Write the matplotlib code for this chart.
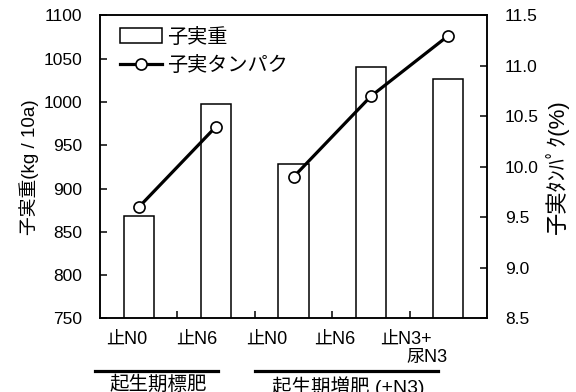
import matplotlib
matplotlib.use("Agg")
import matplotlib.pyplot as plt
from matplotlib.lines import Line2D
from matplotlib.patches import Patch
import numpy as np

plt.rcParams['font.family'] = ['Liberation Sans', 'Noto Sans CJK JP']
plt.rcParams['font.size'] = 12.5

categories = ["止N0", "止N6", "止N0", "止N6", "止N3+"]
extra_label = "尿N3"
yield_kg = [868, 998, 928, 1041, 1027]
protein = [9.6, 10.4, 9.9, 10.7, 11.3]
groups = [[0, 1], [2, 3, 4]]
group_names = ["起生期標肥", "起生期増肥 (+N3)"]

x = np.arange(len(categories))

fig = plt.figure(figsize=(5.76, 3.92), dpi=100)
ax = fig.add_axes([0.1736, 0.188, 0.8455 - 0.1736, 0.9605 - 0.188])
ax2 = ax.twinx()

ax.bar(x, yield_kg, width=0.39, color="white", edgecolor="black", linewidth=1.1, zorder=2)
for g in groups:
    ax2.plot(x[g], [protein[i] for i in g], color="black", lw=2.3,
             marker="o", ms=8, mfc="white", mec="black", mew=1.2, zorder=3)

ax.set_xlim(-0.5, 4.5)
ax.set_ylim(750, 1100)
ax.set_yticks(range(750, 1101, 50))
ax2.set_ylim(8.5, 11.5)
ax2.set_yticks(np.arange(8.5, 11.51, 0.5))
ax2.set_yticklabels([f"{v:.1f}" for v in np.arange(8.5, 11.51, 0.5)])

# category labels sit a bit left of the bars, as in the source
label_pos = [-0.15, 0.75, 1.65, 2.53, 3.45]
ax.set_xticks(label_pos)
ax.set_xticklabels(categories, fontsize=13)
ax.set_xticks([0.5, 1.5, 2.5, 3.5], minor=True)
ax.tick_params(axis="x", which="major", length=0, pad=9)
ax.tick_params(axis="x", which="minor", direction="in", length=5, width=1.1)
ax.tick_params(axis="y", direction="in", length=5, width=1.1, pad=13)
ax2.tick_params(axis="y", direction="in", length=5, width=1.1, pad=13)
ax.text(4.0 - 0.27, -0.1, extra_label, transform=ax.get_xaxis_transform(),
        ha="center", va="top", fontsize=13)

for a in (ax, ax2):
    for s in a.spines.values():
        s.set_linewidth(1.1)

ax.set_ylabel("子実重(kg / 10a)", fontsize=13.5, labelpad=3)
ax2.set_ylabel("子実ﾀﾝﾊﾟｸ(%)", fontsize=16, labelpad=4)

# group brackets below the axis
tr = ax.get_xaxis_transform()
spans = [(-0.565, 1.02), (1.505, 3.87)]
for (x0, x1), name in zip(spans, group_names):
    ax.add_line(Line2D([x0, x1], [-0.174, -0.174], transform=tr, color="black",
                       lw=2.3, clip_on=False))
    ax.text((x0 + x1) / 2 + 0.02, -0.19, name, transform=tr, ha="center", va="top",
            fontsize=14)

handles = [Patch(facecolor="white", edgecolor="black", linewidth=1.1),
           Line2D([], [], color="black", lw=2.3, marker="o", ms=8, mfc="white",
                  mec="black", mew=1.2)]
ax2.legend(handles, ["子実重", "子実タンパク"], loc="upper left", bbox_to_anchor=(0.02, 1.0),
           frameon=False, fontsize=14.5, handlelength=2.1, handletextpad=0.25,
           borderaxespad=0.2, labelspacing=0.45)

fig.savefig("out.png", dpi=100)
